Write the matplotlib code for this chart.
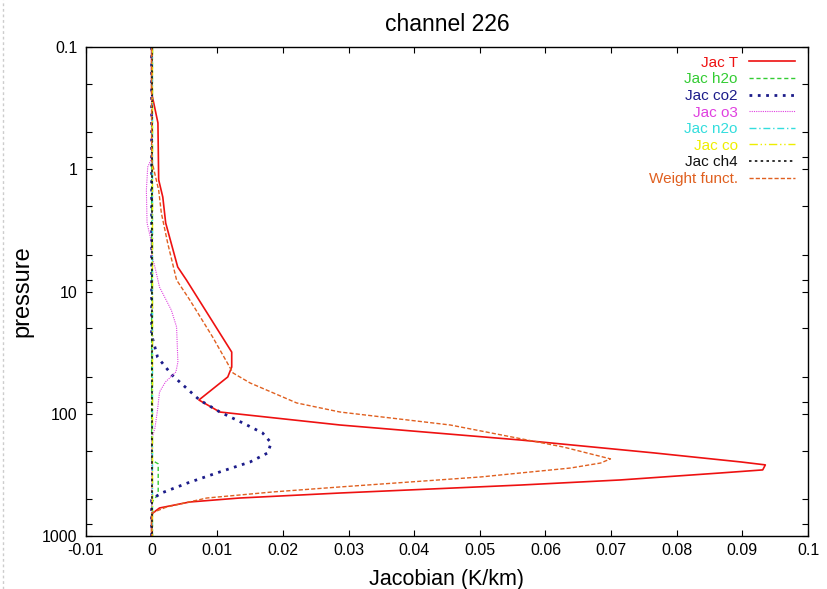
import matplotlib
matplotlib.use("Agg")
import matplotlib.pyplot as plt
from matplotlib import ticker
from matplotlib.lines import Line2D

plt.rcParams["font.family"] = ["Liberation Sans", "DejaVu Sans"]

# pressure (hPa) and jacobian values
p_t = [0.1, 0.238, 0.418, 1.22, 1.69, 2.75, 6.3, 8.05, 31.3, 41.5, 50, 77.2, 96.8,
       123.6, 164, 209, 248, 262, 288, 305, 348, 383, 445, 489, 527, 590, 648, 686, 1000]
jac_t = [0, 0, 0.00096, 0.00107, 0.0017, 0.00214, 0.00397, 0.0053, 0.0122, 0.0122,
         0.0116, 0.0072, 0.0104, 0.0287, 0.0562, 0.0765, 0.0898, 0.0935, 0.0931,
         0.0867, 0.0714, 0.0562, 0.0287, 0.0134, 0.0058, 0.0012, 0.0002, 0, 0]

p_h2o = [0.1, 239, 257, 453, 508, 537, 1000]
jac_h2o = [0, 0, 0.001, 0.001, 0.0003, 0, 0]

p_co2 = [0.1, 22.7, 34.4, 48.2, 77.2, 96.8, 119, 143.6, 173, 209, 248, 299, 368,
         445, 489, 508, 1000]
jac_co2 = [0, 0, 0.0009, 0.0031, 0.0073, 0.0104, 0.0139, 0.0169, 0.0182, 0.0177,
           0.0150, 0.0104, 0.0055, 0.0015, 0.0003, 0, 0]

p_o3 = [0.1, 0.81, 0.96, 1.48, 2.75, 3.79, 5.0, 6.3, 9.2, 14.2, 19.5, 37.7, 45.5,
        55, 66.4, 93, 131, 149, 164, 1000]
jac_o3 = [0, 0, -0.0006, -0.0008, -0.0007, -0.0001, 0, 0.0005, 0.0012, 0.003,
          0.0038, 0.004, 0.0037, 0.0021, 0.0012, 0.0009, 0.0005, 0.0002, 0, 0]

p_zero = [0.1, 1000]
jac_n2o = [0, 0]
jac_co = [0, 0]
jac_ch4 = [0, 0]

p_w = [0.1, 0.84, 1.48, 2.28, 4.01, 8.05, 11.7, 23.6, 46.4, 56, 81.6, 96.8, 123.6,
       187, 234, 253, 278, 305, 329, 397, 436, 489, 579, 648, 1000]
weight = [0, 0, 0.00107, 0.00148, 0.00244, 0.0038, 0.0058, 0.0093, 0.0124, 0.0150,
          0.0221, 0.0287, 0.0455, 0.0627, 0.0699, 0.0684, 0.0638, 0.0562, 0.0501,
          0.0287, 0.0185, 0.0084, 0.0023, 0, 0]

x_ticks = [-0.01, 0, 0.01, 0.02, 0.03, 0.04, 0.05, 0.06, 0.07, 0.08, 0.09, 0.1]
y_ticks = [0.1, 1, 10, 100, 1000]

series = [
    ("Jac T", jac_t, p_t, "#ee1111", "-", 1.2),
    ("Jac h2o", jac_h2o, p_h2o, "#33cc33", (0, (3, 2)), 1.0),
    ("Jac co2", jac_co2, p_co2, "#1c1c8a", (0, (1, 2)), 2.0),
    ("Jac o3", jac_o3, p_o3, "#e040e0", (0, (1, 1)), 0.8),
    ("Jac n2o", jac_n2o, p_zero, "#33dddd", (0, (5, 2, 1, 2)), 1.0),
    ("Jac co", jac_co, p_zero, "#eeee00", (0, (6, 2, 1, 2, 1, 2)), 1.0),
    ("Jac ch4", jac_ch4, p_zero, "#111111", (0, (1.5, 2)), 1.2),
    ("Weight funct.", weight, p_w, "#e06020", (0, (3, 1.5)), 1.0),
]

fig = plt.figure(figsize=(8.28, 5.89), dpi=100)
ax = fig.add_axes([86 / 828, 53 / 589, 722 / 828, 489 / 589])

for label, x, p, color, ls, lw in series:
    ax.plot(x, p, color=color, linestyle=ls, linewidth=lw, label=label)

ax.set_yscale("log")
ax.set_ylim(1000, 0.1)
ax.set_xlim(-0.01, 0.1)
ax.set_xticks(x_ticks)
ax.xaxis.set_major_formatter(ticker.FuncFormatter(lambda v, _: f"{round(v, 3):g}"))
ax.yaxis.set_major_locator(ticker.FixedLocator(y_ticks))
ax.yaxis.set_major_formatter(ticker.FuncFormatter(lambda v, _: f"{v:g}"))
ax.yaxis.set_minor_locator(ticker.LogLocator(subs=(2, 5, 8)))
ax.yaxis.set_minor_formatter(ticker.NullFormatter())
ax.tick_params(which="both", direction="in", length=4.5, width=0.8,
               top=True, right=True, labelsize=11.5)
ax.tick_params(axis="x", pad=5)
ax.tick_params(axis="y", pad=6)
for s in ax.spines.values():
    s.set_linewidth(1.0)

ax.set_title("channel 226", fontsize=16.5, pad=11.5)
ax.set_xlabel("Jacobian (K/km)", fontsize=15.5, labelpad=8)
ax.set_ylabel("pressure", fontsize=17, labelpad=6)

leg = ax.legend(loc="upper right", bbox_to_anchor=(0.982, 0.982), frameon=False,
                markerfirst=False, fontsize=11, handlelength=3.0, handletextpad=0.75,
                labelspacing=0.17, borderpad=0, borderaxespad=0)
for text, s in zip(leg.get_texts(), series):
    text.set_color(s[3])

# faint page border on the left of the screenshot
fig.add_artist(Line2D([3 / 828, 3 / 828], [0, 1], transform=fig.transFigure,
                      color="#cccccc", linestyle=(0, (2, 2)), linewidth=1))

plt.savefig("out.png", dpi=100)
